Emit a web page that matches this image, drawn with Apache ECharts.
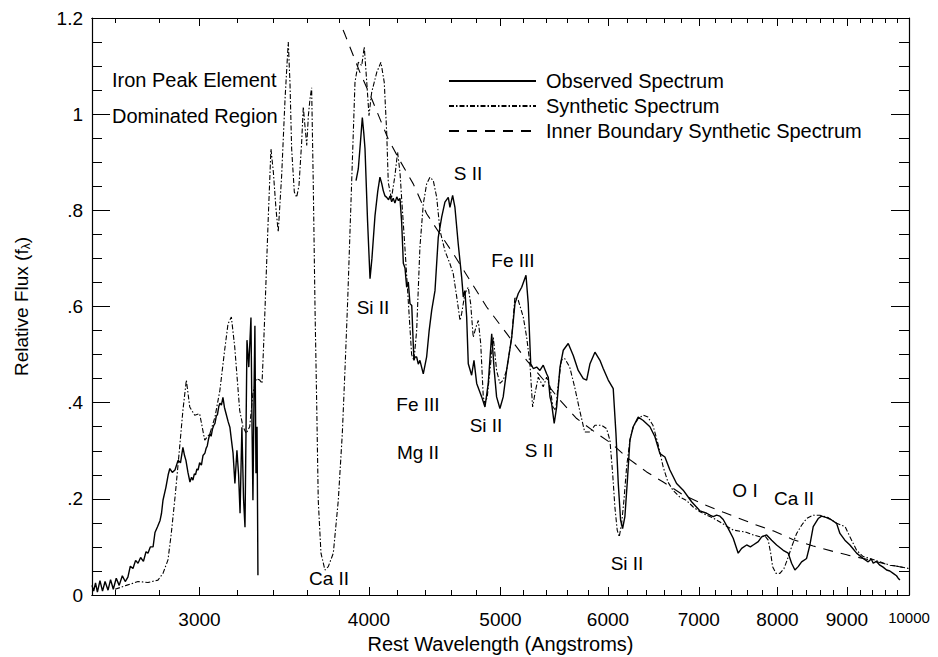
<!DOCTYPE html>
<html>
<head>
<meta charset="utf-8">
<script src="https://cdn.jsdelivr.net/npm/echarts@6/dist/echarts.min.js"></script>
<style>html,body{margin:0;padding:0;background:#fff}#c{width:938px;height:657px}</style>
</head>
<body>
<div id="c"></div>
<script>
// ---------------- DATA (wavelength in Angstroms, relative flux) ----------------
const obsUvWave = [2500,2507,2515,2523,2534,2545,2556,2569,2580,2592,2605,2618,2632,2645,2657,2668,2680,2692,2703,2715,2728,2740,2749,2760,2773,2782,2794,2806,2813,2820,2834,2845,2853,2865,2878,2893,2905,2917,2925,2932,2942,2952,2960,2967,2974,2980,2987,2993,3001,3010,3018,3028,3034,3040,3047,3054,3060,3067,3073,3080,3087,3093,3100,3106,3114,3122,3130,3138,3150,3159,3168,3176,3186,3197,3206,3214,3224,3233,3241,3252,3262,3274,3280,3285,3292,3296,3302,3308,3313];
const obsUvFlux = [0.02,0.008,0.025,0.006,0.03,0.008,0.028,0.01,0.032,0.012,0.035,0.02,0.04,0.028,0.037,0.06,0.055,0.072,0.066,0.078,0.07,0.09,0.087,0.1,0.1,0.13,0.142,0.155,0.17,0.197,0.224,0.25,0.263,0.255,0.26,0.28,0.275,0.307,0.29,0.28,0.255,0.235,0.245,0.239,0.252,0.25,0.262,0.26,0.275,0.27,0.29,0.295,0.305,0.31,0.325,0.336,0.33,0.345,0.352,0.357,0.372,0.375,0.392,0.399,0.395,0.411,0.39,0.378,0.36,0.349,0.32,0.295,0.232,0.301,0.25,0.17,0.349,0.2,0.141,0.53,0.474,0.577,0.35,0.197,0.45,0.56,0.253,0.35,0.041];

const obsOptWave = [3913,3928,3942,3955,3965,3973,3990,4007,4020,4041,4060,4075,4088,4098,4110,4122,4135,4145,4157,4168,4180,4193,4205,4216,4228,4240,4252,4264,4276,4288,4301,4308,4317,4325,4337,4349,4361,4386,4411,4430,4449,4474,4499,4525,4550,4576,4589,4610,4628,4654,4681,4694,4707,4721,4734,4761,4780,4802,4843,4870,4897,4926,4947,4967,4995,5023,5052,5096,5124,5153,5183,5221,5241,5263,5286,5316,5346,5376,5407,5422,5438,5453,5477,5500,5531,5562,5609,5657,5705,5754,5787,5820,5869,5919,5952,6003,6054,6082,6106,6130,6151,6175,6199,6228,6263,6316,6370,6443,6498,6553,6609,6665,6741,6817,6915,7014,7094,7134,7174,7215,7256,7296,7359,7421,7484,7528,7592,7640,7677,7743,7788,7854,7921,7988,8078,8147,8194,8240,8286,8334,8405,8452,8500,8572,8622,8695,8769,8844,8894,8969,9046,9149,9252,9331,9380,9411,9460,9518,9570,9627,9680,9735,9790,9818,9847];
const obsOptFlux = [0.862,0.886,0.94,0.993,0.96,0.928,0.78,0.658,0.7,0.789,0.84,0.869,0.855,0.841,0.83,0.827,0.822,0.83,0.818,0.825,0.815,0.828,0.82,0.825,0.775,0.69,0.68,0.64,0.651,0.606,0.602,0.55,0.488,0.495,0.495,0.48,0.488,0.46,0.495,0.55,0.592,0.633,0.744,0.786,0.817,0.827,0.806,0.831,0.806,0.73,0.661,0.62,0.633,0.578,0.481,0.457,0.488,0.44,0.412,0.391,0.44,0.543,0.467,0.412,0.388,0.412,0.467,0.536,0.606,0.627,0.64,0.665,0.606,0.481,0.471,0.474,0.467,0.478,0.46,0.453,0.412,0.398,0.357,0.391,0.474,0.509,0.523,0.498,0.467,0.45,0.447,0.481,0.505,0.488,0.471,0.447,0.429,0.336,0.232,0.156,0.138,0.163,0.232,0.322,0.35,0.37,0.363,0.35,0.329,0.294,0.287,0.26,0.232,0.218,0.194,0.175,0.17,0.166,0.163,0.166,0.164,0.157,0.138,0.118,0.087,0.097,0.104,0.1,0.104,0.111,0.121,0.125,0.114,0.104,0.093,0.087,0.066,0.052,0.059,0.069,0.076,0.104,0.142,0.159,0.164,0.161,0.156,0.149,0.128,0.114,0.104,0.087,0.076,0.069,0.075,0.066,0.07,0.062,0.058,0.052,0.05,0.045,0.04,0.035,0.031];

const synWave = [2600,2650,2703,2749,2796,2820,2844,2860,2880,2901,2917,2934,2951,2976,3001,3027,3054,3080,3106,3131,3149,3167,3185,3212,3230,3248,3267,3285,3304,3323,3336,3343,3353,3372,3387,3401,3416,3429,3449,3469,3488,3498,3508,3524,3538,3552,3568,3578,3588,3599,3609,3619,3629,3639,3650,3660,3670,3687,3712,3733,3765,3797,3823,3841,3858,3884,3906,3928,3951,3968,3985,4000,4018,4053,4082,4105,4122,4133,4155,4180,4199,4216,4228,4252,4276,4300,4317,4337,4361,4386,4411,4436,4461,4487,4512,4550,4589,4615,4642,4668,4681,4707,4734,4753,4774,4796,4815,4835,4856,4870,4889,4917,4939,4967,4995,5023,5052,5096,5124,5153,5197,5227,5256,5280,5301,5331,5376,5407,5438,5465,5491,5512,5544,5575,5623,5670,5719,5768,5820,5869,5936,5986,6020,6048,6071,6095,6116,6141,6165,6193,6228,6263,6316,6370,6421,6476,6531,6590,6643,6699,6776,6853,6934,7014,7094,7174,7256,7340,7421,7574,7677,7765,7831,7875,7908,7934,7979,8033,8088,8133,8194,8264,8334,8405,8500,8597,8719,8844,8974,9046,9149,9252,9358,9518,9681,9847,10000];
const synFlux = [0.012,0.02,0.028,0.026,0.031,0.045,0.073,0.128,0.211,0.308,0.384,0.447,0.391,0.374,0.377,0.322,0.336,0.37,0.426,0.509,0.564,0.578,0.516,0.384,0.35,0.336,0.35,0.42,0.45,0.447,0.44,0.5,0.595,0.789,0.928,0.879,0.803,0.755,0.872,1.032,1.15,1.066,0.928,0.838,0.827,0.852,0.941,1.015,0.976,0.935,0.997,1.032,1.055,0.858,0.595,0.405,0.197,0.087,0.052,0.059,0.087,0.197,0.336,0.474,0.613,0.858,1.066,1.108,1.101,1.14,1.066,0.997,1.045,1.087,1.108,1.066,0.962,0.858,0.824,0.872,0.921,0.879,0.824,0.72,0.61,0.5,0.488,0.55,0.723,0.813,0.855,0.869,0.862,0.827,0.758,0.716,0.689,0.668,0.62,0.571,0.585,0.627,0.64,0.606,0.536,0.557,0.571,0.523,0.412,0.398,0.412,0.481,0.536,0.467,0.44,0.447,0.467,0.536,0.62,0.613,0.578,0.536,0.481,0.391,0.419,0.453,0.433,0.453,0.433,0.391,0.384,0.433,0.488,0.492,0.474,0.433,0.384,0.339,0.339,0.353,0.353,0.346,0.322,0.253,0.183,0.135,0.121,0.149,0.197,0.266,0.322,0.35,0.367,0.374,0.37,0.353,0.315,0.266,0.235,0.218,0.204,0.197,0.183,0.173,0.166,0.16,0.152,0.143,0.135,0.131,0.125,0.121,0.123,0.114,0.087,0.059,0.045,0.045,0.055,0.073,0.1,0.128,0.145,0.159,0.166,0.166,0.161,0.149,0.142,0.121,0.093,0.08,0.076,0.069,0.062,0.059,0.055];

const innerWave = [3828,3841,3939,4021,4133,4216,4312,4411,4512,4615,4748,4884,5052,5227,5407,5531,5690,5886,6037,6210,6407,6590,6817,7053,7300,7677,7949,8216,8500,8810,9013,9324,9627,10000];
const innerFlux = [1.175,1.165,1.087,1.03,0.948,0.903,0.855,0.793,0.751,0.71,0.654,0.599,0.544,0.488,0.44,0.405,0.367,0.336,0.315,0.284,0.256,0.235,0.208,0.189,0.172,0.148,0.133,0.115,0.102,0.09,0.083,0.074,0.064,0.055];

const seriesNames = ['Observed Spectrum', 'Synthetic Spectrum', 'Inner Boundary Synthetic Spectrum'];
const xLabelValues = [3000,4000,5000,6000,7000,8000,9000,10000];
const xMinorTickValues = [2600,2800,3000,3200,3400,3600,3800,4000,4200,4400,4600,4800,5000,5200,5400,5600,5800,6000,6200,6400,6600,6800,7000,7200,7400,7600,7800,8000,8200,8400,8600,8800,9000,9200,9400,9600,9800,10000];
const yTickLabels = ['0','.2','.4','.6','.8','1','1.2'];
const annotations = [
  {t:'Iron Peak Element', x:112, y:80, align:'left', size:20},
  {t:'Dominated Region', x:112, y:116, align:'left', size:20},
  {t:'S II', x:468, y:173},
  {t:'Fe III', x:513, y:260},
  {t:'Si II', x:373, y:307},
  {t:'Fe III', x:418, y:404},
  {t:'Mg II', x:418, y:452},
  {t:'Si II', x:486, y:425},
  {t:'S II', x:539, y:450},
  {t:'Si II', x:627, y:563},
  {t:'O I', x:745, y:490},
  {t:'Ca II', x:794, y:498},
  {t:'Ca II', x:329, y:578}
];

// ---------------- CHART ----------------
const FONT = "'Liberation Sans', Arial, Helvetica, sans-serif";
const lg = Math.log10;
const xMin = lg(2500), xMax = lg(10000);
function pairs(w, f) { return w.map((v, i) => [lg(v), f[i]]); }
const obsData = pairs(obsUvWave, obsUvFlux).concat([[lg(3600), '-']], pairs(obsOptWave, obsOptFlux));

function xAxisDef(pos, withLabels, tickVals, tickLen) {
  return {
    type: 'value', position: pos, min: xMin, max: xMax,
    axisLine: {show: true, onZero: false, lineStyle: {color: '#000', width: 1.2}},
    axisTick: {show: true, inside: true, length: tickLen, customValues: tickVals.map(lg), lineStyle: {color: '#000', width: 1}},
    axisLabel: withLabels ? {
      show: true, customValues: xLabelValues.map(lg), margin: 15,
      fontFamily: FONT, fontSize: 19, color: '#000',
      formatter: v => { const n = Math.round(Math.pow(10, v)); return n === 10000 ? '{s|10000}' : String(n); },
      rich: {s: {fontFamily: FONT, fontSize: 15, color: '#000'}}
    } : {show: false},
    splitLine: {show: false}
  };
}
function yAxisDef(pos, withLabels) {
  return {
    type: 'value', position: pos, min: 0, max: 1.2, interval: 0.2,
    axisLine: {show: true, onZero: false, lineStyle: {color: '#000', width: 1.2}},
    axisTick: {show: true, inside: true, length: 18, lineStyle: {color: '#000', width: 1}},
    minorTick: {show: true, splitNumber: 4, length: 10, lineStyle: {color: '#000', width: 1}},
    axisLabel: withLabels ? {
      show: true, margin: 9, fontFamily: FONT, fontSize: 19, color: '#000',
      formatter: v => yTickLabels[Math.round(v / 0.2)]
    } : {show: false},
    splitLine: {show: false}, minorSplitLine: {show: false}
  };
}

const xAxes = [
  xAxisDef('bottom', true, xLabelValues, 8),
  xAxisDef('bottom', false, xMinorTickValues, 5),
  xAxisDef('top', false, xLabelValues, 8),
  xAxisDef('top', false, xMinorTickValues, 5)
];
xAxes[0].name = 'Rest Wavelength (Angstroms)';
xAxes[0].nameLocation = 'middle';
xAxes[0].nameGap = 39;
xAxes[0].nameTextStyle = {fontFamily: FONT, fontSize: 20, color: '#000', lineHeight: 20};

const yAxes = [yAxisDef('left', true), yAxisDef('right', false)];
yAxes[0].name = 'Relative Flux (f{sub|λ})';
yAxes[0].nameLocation = 'middle';
yAxes[0].nameRotate = 90;
yAxes[0].nameGap = 60;
yAxes[0].nameTextStyle = {fontFamily: FONT, fontSize: 19, color: '#000',
  rich: {sub: {fontFamily: FONT, fontSize: 12, color: '#000', padding: [9, 0, 0, 0]}}};

const chart = echarts.init(document.getElementById('c'), null, {renderer: 'svg', width: 938, height: 657});
chart.setOption({
  animation: false,
  backgroundColor: '#fff',
  grid: {left: 92, right: 29, top: 18, bottom: 62, containLabel: false, outerBoundsMode: 'none'},
  xAxis: xAxes,
  yAxis: yAxes,
  legend: {
    left: 443, top: 66, orient: 'vertical', itemWidth: 87, itemHeight: 14, itemGap: 5,
    data: seriesNames,
    itemStyle: {color: 'rgba(0,0,0,0)', borderColor: 'rgba(0,0,0,0)', borderWidth: 0, opacity: 0},
    textStyle: {fontFamily: FONT, fontSize: 20, color: '#000', padding: [0, 0, 0, 5]},
    selectedMode: false
  },
  graphic: annotations.map(a => ({
    type: 'text', x: a.x, y: a.y, silent: true,
    style: {text: a.t, font: (a.size || 19) + 'px ' + FONT, fill: '#000',
      align: a.align || 'center', verticalAlign: 'middle',
      textAlign: a.align || 'center', textVerticalAlign: 'middle'}
  })),
  series: [
    {name: seriesNames[0], type: 'line', data: obsData, symbol: 'none', showSymbol: false,
      lineStyle: {color: '#000', width: 1.4}, itemStyle: {color: '#000'}, connectNulls: false},
    {name: seriesNames[1], type: 'line', data: pairs(synWave, synFlux), symbol: 'none', showSymbol: false,
      lineStyle: {color: '#000', width: 1.1, type: [5, 2, 1.5, 2]}, itemStyle: {color: '#000'}},
    {name: seriesNames[2], type: 'line', data: pairs(innerWave, innerFlux), symbol: 'none', showSymbol: false,
      lineStyle: {color: '#000', width: 1.1, type: [10, 8]}, itemStyle: {color: '#000'}}
  ]
});
</script>
</body>
</html>
